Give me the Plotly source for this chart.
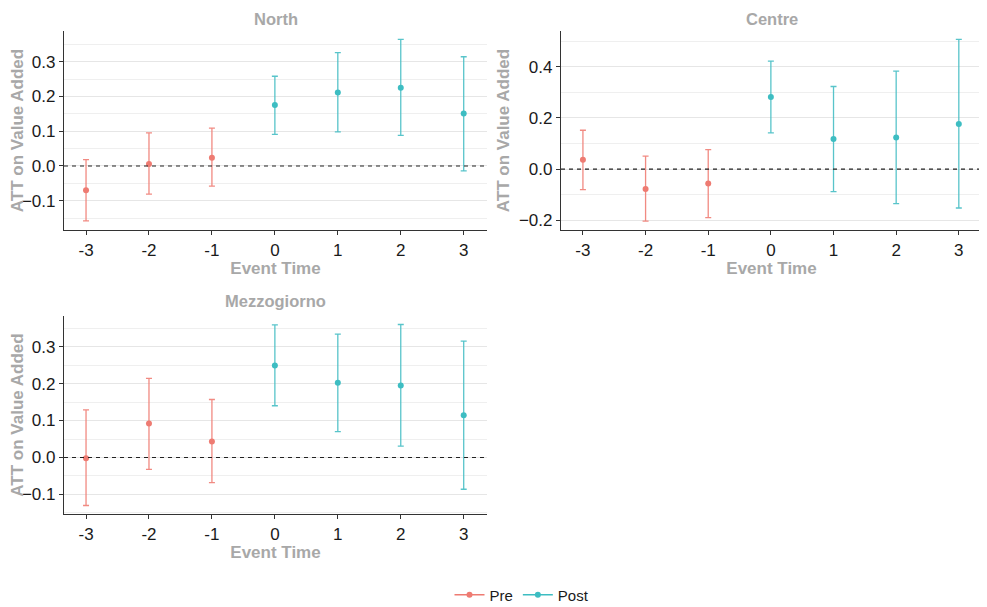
import plotly.graph_objects as go

event_time = [-3, -2, -1, 0, 1, 2, 3]
periods = ["Pre", "Pre", "Pre", "Post", "Post", "Post", "Post"]

north_att = [-0.070, 0.006, 0.024, 0.175, 0.211, 0.225, 0.151]
north_lo = [-0.158, -0.081, -0.058, 0.091, 0.098, 0.088, -0.014]
north_hi = [0.018, 0.095, 0.109, 0.258, 0.326, 0.364, 0.314]

centre_att = [0.037, -0.078, -0.056, 0.282, 0.118, 0.124, 0.176]
centre_lo = [-0.080, -0.203, -0.190, 0.142, -0.088, -0.135, -0.152]
centre_hi = [0.152, 0.051, 0.076, 0.422, 0.323, 0.383, 0.507]

mezz_att = [-0.002, 0.092, 0.043, 0.249, 0.202, 0.195, 0.114]
mezz_lo = [-0.130, -0.032, -0.068, 0.140, 0.070, 0.031, -0.086]
mezz_hi = [0.129, 0.214, 0.157, 0.359, 0.334, 0.360, 0.315]

panels = [
    ("North", north_att, north_lo, north_hi, "x", "y"),
    ("Centre", centre_att, centre_lo, centre_hi, "x2", "y2"),
    ("Mezzogiorno", mezz_att, mezz_lo, mezz_hi, "x3", "y3"),
]

colors = {"Pre": "#EE7B72", "Post": "#3DBDC2"}
bar_colors = {"Pre": "rgba(240,125,116,0.9)", "Post": "rgba(70,190,196,0.9)"}

FONT = "Arial, Liberation Sans, sans-serif"
GREY = "#A8A8A8"

fig = go.Figure()

for name, att, lo, hi, xa, ya in panels:
    for per in ["Pre", "Post"]:
        idx = [i for i, p in enumerate(periods) if p == per]
        xs = [event_time[i] for i in idx]
        ys = [att[i] for i in idx]
        plus = [hi[i] - att[i] for i in idx]
        minus = [att[i] - lo[i] for i in idx]
        fig.add_trace(go.Scatter(
            x=xs, y=ys, mode="markers", xaxis=xa, yaxis=ya,
            marker=dict(color=colors[per], size=6),
            error_y=dict(type="data", array=plus, arrayminus=minus,
                         color=bar_colors[per], thickness=1.3, width=3),
            showlegend=False, name=per,
        ))

for per in ["Pre", "Post"]:
    fig.add_trace(go.Scatter(
        x=[None], y=[None], mode="lines+markers", name=per,
        line=dict(color=colors[per], width=1.3),
        marker=dict(color=colors[per], size=6), showlegend=True,
    ))

# page body has an 8px margin, so the figure origin sits at (8, 8) of the window
OFF = 8
W, H = 975, 595
def dx(a, b):
    return [(a - OFF) / W, (b - OFF) / W]
def dy(top, bot):
    return [1 - (bot - OFF) / H, 1 - (top - OFF) / H]
def py(p):
    return 1 - (p - OFF) / H

axis_common = dict(
    showline=True, linecolor="#333333", linewidth=1.2,
    ticks="outside", ticklen=4, tickcolor="#333333",
    tickfont=dict(family=FONT, size=17, color="#1a1a1a"),
    zeroline=False, automargin=False,
)
xcommon = dict(axis_common, showgrid=False, tickvals=event_time,
               ticktext=[str(v) for v in event_time],
               title=dict(text="<b>Event Time</b>", font=dict(family=FONT, size=17, color=GREY), standoff=2))

def ycommon(dt, rng):
    return dict(axis_common, showgrid=True, gridcolor="#E6E6E6", gridwidth=1,
                dtick=dt, tick0=0, range=rng, tickformat=".1f",
                minor=dict(showgrid=True, gridcolor="#EFEFEF", dtick=dt / 2, tick0=0, ticks=""),
                title=dict(text="<b>ATT on Value Added</b>", font=dict(family=FONT, size=17, color=GREY), standoff=4))

xr = [-3.35, 3.37]
fig.update_layout(
    width=W, height=H,
    margin=dict(l=0, r=0, t=0, b=0, autoexpand=False),
    paper_bgcolor="white", plot_bgcolor="white",
    font=dict(family=FONT),
    xaxis=dict(xcommon, domain=dx(64, 487), range=xr, anchor="y"),
    yaxis=dict(ycommon(0.1, [-0.184, 0.388]), domain=dy(31, 230), anchor="x"),
    xaxis2=dict(xcommon, domain=dx(561, 982), range=xr, anchor="y2"),
    yaxis2=dict(ycommon(0.2, [-0.238, 0.540]), domain=dy(31, 230), anchor="x2"),
    xaxis3=dict(xcommon, domain=dx(64, 487), range=xr, anchor="y3"),
    yaxis3=dict(ycommon(0.1, [-0.153, 0.383]), domain=dy(316, 514), anchor="x3"),
    legend=dict(orientation="h", x=(522 - OFF) / W, xanchor="center", y=py(595), yanchor="middle",
                font=dict(family=FONT, size=15, color="#1a1a1a"), itemwidth=30),
    showlegend=True,
)

titles = [("North", "x", 8.5), ("Centre", "x2", 8.5), ("Mezzogiorno", "x3", 291)]
for t, xa, ypix in titles:
    fig.add_annotation(text=f"<b>{t}</b>", xref=f"{xa} domain", x=0.5, yref="paper",
                       y=py(ypix), yanchor="top", showarrow=False, borderpad=0,
                       font=dict(family=FONT, size=16.5, color=GREY))

for xa, ya in [("x", "y"), ("x2", "y2"), ("x3", "y3")]:
    fig.add_shape(type="line", xref=f"{xa} domain", x0=0, x1=1, yref=ya, y0=0, y1=0,
                  line=dict(color="#222222", width=1.2, dash="4px,4px"))

fig.write_html("out.html")
